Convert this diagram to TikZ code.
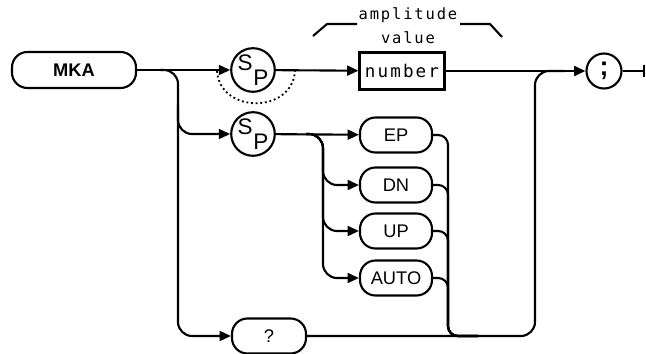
\documentclass[tikz,border=0pt]{standalone}
\usepackage{tikz}
\usepackage{fontspec}
\setsansfont{Liberation Sans}
\newfontfamily\plotfont[LetterSpace=12]{DejaVu Sans Mono}
\usetikzlibrary{arrows.meta}
\newcommand\spsym{\raisebox{7pt}{S}\kern0.5pt\raisebox{-4pt}{P}}

\begin{document}
\begin{tikzpicture}[x=0.025cm,y=-0.025cm,line width=1.5pt,
  kw/.style={draw,rounded corners=11pt,minimum width=1.8cm,minimum height=0.875cm,inner sep=0pt,font=\sffamily\fontsize{13}{14}\selectfont},
  spc/.style={draw,circle,minimum size=0.9cm,inner sep=0pt,font=\sffamily\fontsize{16}{16}\selectfont},
  go/.style={-{Triangle[length=8pt,width=7pt]}}]
\useasboundingbox(0,0)rectangle(646,354);
\node[kw,minimum width=3.1cm,minimum height=0.9cm,font=\sffamily\bfseries\fontsize{13}{14}\selectfont](mka)at(74,70){MKA};
\node[spc](sp1)at(253,70){\spsym};
\node[spc](sp2)at(253,134){\spsym};
\node[draw,minimum width=2.125cm,minimum height=0.925cm,inner sep=0pt,font=\plotfont\fontsize{12.5}{13}\selectfont](num)at(402,71){number};
\node[spc,minimum size=0.875cm,font=\sffamily\bfseries\fontsize{19}{19}\selectfont](semi)at(604,71){;};
\node[kw](ep)at(396,135){EP};
\node[kw](dn)at(396,185){DN};
\node[kw](up)at(396,231){UP};
\node[kw](auto)at(396,278){AUTO};
\node[kw,minimum width=1.85cm](q)at(269,336){?};
\node[font=\plotfont\fontsize{11}{11}\selectfont](amp)at(408,15){amplitude};
\node[font=\plotfont\fontsize{11}{11}\selectfont](val)at(408,38){value};
\draw(313,36)--(327,24)--(357,24);\draw(460,24)--(490,24)--(502,37);
% main line
\draw[go](mka)--(sp1);\draw[go](sp1)--(num);\draw[go](num)--(semi);
\coordinate(stop)at(645,71);\draw[-{Bar[width=9pt]}](semi)--(stop);
\coordinate(d1)at(217,71);\coordinate(d2)at(295,71);
\draw[dotted,line width=1.3pt](d1)..controls(220,114)and(292,114)..(d2);
% left column
\coordinate(c1)at(160,70);\coordinate(col1)at(178,200);
\draw[go,rounded corners=10pt](c1)-|(col1)|-(q);
\coordinate(b2)at(178,105);\draw[go,rounded corners=10pt](b2)|-(sp2);
\draw[go](sp2)--(ep);
\coordinate(c2)at(306,134);\coordinate(col2)at(323,200);
\foreach\k in{dn,up,auto}{\draw[go,rounded corners=10pt](c2)-|(col2|-\k)--(\k);}
% merge and return
\coordinate(col3)at(448,300);\coordinate(m3)at(478,336);
\foreach\k in{ep,dn,up,auto}{\draw[rounded corners=7pt](\k)-|(col3)|-(m3);}
\coordinate(col4)at(535,200);\coordinate(j4)at(565,71);
\draw[rounded corners=10pt](q)-|(col4)|-(j4);
\end{tikzpicture}
\end{document}
